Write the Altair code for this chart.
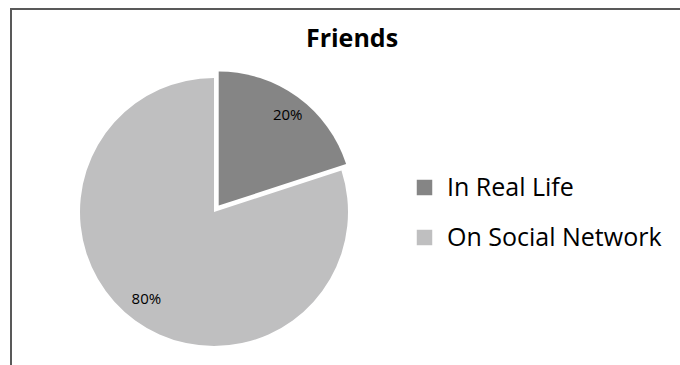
import altair as alt
import pandas as pd

title_text = "Friends"
categories = ["In Real Life", "On Social Network"]
shares = [20, 80]
labels = ["20%", "80%"]
colors = ["#858585", "#BFBFC0"]

df = pd.DataFrame({"category": categories, "share": shares, "label": labels})
scale = alt.Scale(domain=categories, range=colors)
is_first = alt.datum.category == categories[0]

CX, CY, R = 214, 212, 134
EX, EY = 4.7, -6.5
FONT = "Open Sans"

base = alt.Chart(df).encode(
    theta=alt.Theta("share:Q", stack=True),
    order=alt.Order("category:N", sort="ascending"),
    x=alt.value(CX),
    y=alt.value(CY),
)

pie = base.mark_arc(radius=R).encode(
    color=alt.condition(
        is_first,
        alt.value("white"),
        alt.Color(
            "category:N",
            scale=scale,
            legend=alt.Legend(
                title=None,
                orient="none",
                legendX=412,
                legendY=175,
                symbolType="square",
                symbolSize=240,
                symbolStrokeWidth=0,
                symbolOpacity=1,
                labelFont=FONT,
                labelFontSize=25,
                labelColor="#000000",
                labelOffset=10,
                labelLimit=0,
                rowPadding=24,
                padding=0,
            ),
        ),
    )
)

explode = base.mark_arc(radius=R, xOffset=EX, yOffset=EY).encode(
    color=alt.Color("category:N", scale=scale, legend=None),
    opacity=alt.condition(is_first, alt.value(1), alt.value(0)),
)

text_small = base.mark_text(
    radius=114, xOffset=EX, yOffset=EY, dx=2, dy=2, font=FONT, fontSize=15, color="#000000"
).encode(
    text="label:N",
    opacity=alt.condition(is_first, alt.value(1), alt.value(0)),
)

text_big = base.mark_text(
    radius=110, dx=-3, dy=-2, font=FONT, fontSize=15, color="#000000"
).encode(
    text="label:N",
    opacity=alt.condition(is_first, alt.value(0), alt.value(1)),
)

title = alt.Chart(pd.DataFrame({"t": [title_text]})).mark_text(
    font=FONT, fontSize=25, fontWeight="bold", color="#000000", baseline="alphabetic", align="center"
).encode(text="t:N", x=alt.value(352), y=alt.value(47))

frame_top = alt.Chart(pd.DataFrame({"t": [0]})).mark_rule(color="#595959", strokeWidth=2).encode(
    x=alt.value(10), x2=alt.value(680), y=alt.value(9)
)
frame_left = alt.Chart(pd.DataFrame({"t": [0]})).mark_rule(color="#595959", strokeWidth=2).encode(
    x=alt.value(11), y=alt.value(8), y2=alt.value(365)
)

chart = alt.layer(frame_top, frame_left, pie, explode, text_small, text_big, title).properties(
    width=680, height=365, padding=0, autosize=alt.AutoSizeParams(type="none"), background="white"
).configure_view(stroke=None)

chart.save("out.html", embed_options={"renderer": "svg", "actions": False})
